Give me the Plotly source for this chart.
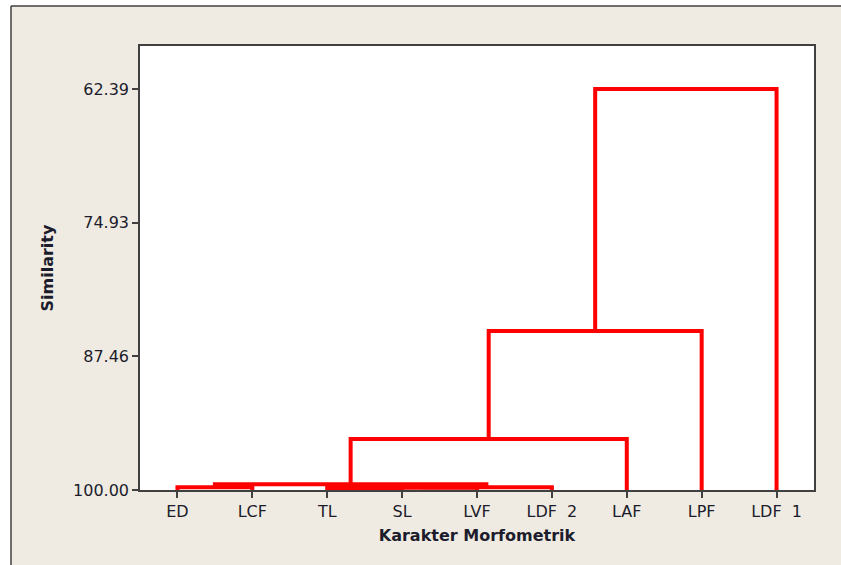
import plotly.graph_objects as go

# ---- data ----
leaf_labels = ["ED", "LCF", "TL", "SL", "LVF", "LDF\u00a0 2", "LAF", "LPF", "LDF\u00a0 1"]
# merges: (left cluster id, right cluster id, similarity); leaves are 0..8, new clusters 9..
merge_left = [0, 2, 10, 11, 9, 13, 14, 15]
merge_right = [1, 3, 4, 5, 12, 6, 7, 8]
merge_similarity = [99.74, 99.82, 99.78, 99.74, 99.47, 95.22, 85.09, 62.39]
y_tick_values = [62.39, 74.93, 87.46, 100.00]
y_tick_labels = ["62.39", "74.93", "87.46", "100.00"]

n = len(leaf_labels)
pos = {i: float(i) for i in range(n)}
height = {i: 100.0 for i in range(n)}

xs, ys = [], []
for k, (a, b, s) in enumerate(zip(merge_left, merge_right, merge_similarity)):
    xa, xb = pos[a], pos[b]
    xs += [xa, xa, xb, xb, None]
    ys += [height[a], s, s, height[b], None]
    cid = n + k
    pos[cid] = (xa + xb) / 2
    height[cid] = s

fig = go.Figure()
fig.add_trace(go.Scatter(
    x=xs, y=ys, mode="lines",
    line=dict(color="#FF0000", width=4),
    hoverinfo="skip", showlegend=False,
))

txt = "#1c1c2c"
W, H = 841, 565
L, R, T, B = 140, 27, 46, 75
pw, ph = W - L - R, H - T - B
bx = (11 - L) / pw          # outer frame left edge (paper coords)
by = 1 + (T - 6) / ph       # outer frame top edge (paper coords)

fig.update_layout(
    width=W, height=H,
    margin=dict(l=L, r=R, t=T, b=B),
    paper_bgcolor="#EFEBE2",
    plot_bgcolor="#FFFFFF",
    font=dict(family="DejaVu Sans", size=16, color=txt),
    xaxis=dict(
        range=[-0.5, 8.5],
        tickmode="array", tickvals=list(range(n)), ticktext=leaf_labels,
        ticks="outside", ticklen=6, tickwidth=1.5, tickcolor="#404040",
        showgrid=False, zeroline=False,
        showline=True, mirror=True, linecolor="#404040", linewidth=1.5,
        title=dict(text="<b>Karakter Morfometrik</b>", font=dict(size=16, color=txt), standoff=10),
        tickfont=dict(size=16, color=txt),
    ),
    yaxis=dict(
        range=[100, 58.36],
        tickmode="array", tickvals=y_tick_values, ticktext=y_tick_labels,
        ticks="outside", ticklen=6, tickwidth=1.5, tickcolor="#404040",
        showgrid=False, zeroline=False,
        showline=True, mirror=True, linecolor="#404040", linewidth=1.5,
        title=dict(text="<b>Similarity</b>", font=dict(size=16, color=txt), standoff=15),
        tickfont=dict(size=16, color=txt),
    ),
    shapes=[
        # white area outside the outer frame
        dict(type="rect", xref="paper", yref="paper", layer="above",
             x0=-1, x1=bx, y0=-1, y1=2, fillcolor="#FFFFFF", line=dict(width=0)),
        dict(type="rect", xref="paper", yref="paper", layer="above",
             x0=-1, x1=2, y0=by, y1=2, fillcolor="#FFFFFF", line=dict(width=0)),
        # outer frame lines
        dict(type="line", xref="paper", yref="paper",
             x0=bx, x1=1.2, y0=by, y1=by,
             line=dict(color="#404040", width=1.5)),
        dict(type="line", xref="paper", yref="paper",
             x0=bx, x1=bx, y0=by, y1=-0.3,
             line=dict(color="#404040", width=1.5)),
    ],
)

fig.write_html(
    "out.html",
    config={"displayModeBar": False},
    post_script="document.body.style.margin='0';document.body.style.overflow='hidden';",
)
